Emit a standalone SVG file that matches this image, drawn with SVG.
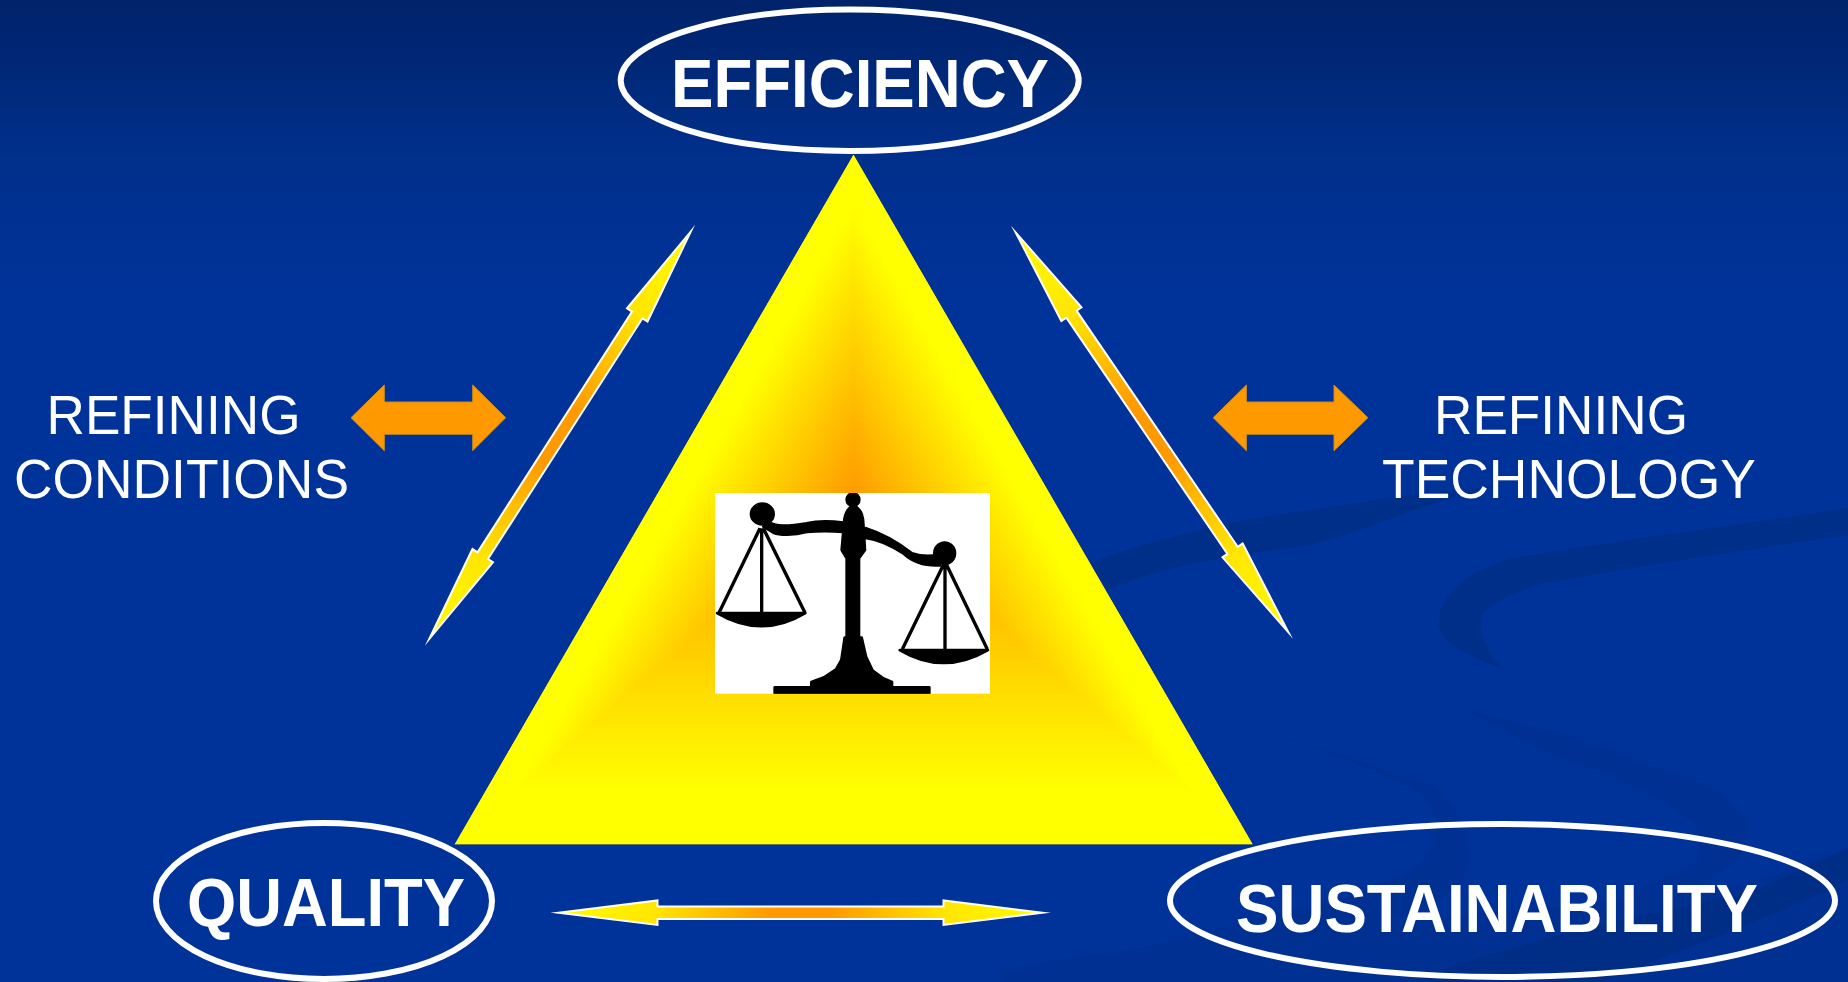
<svg xmlns="http://www.w3.org/2000/svg" width="1848" height="982" viewBox="0 0 1848 982">
<style>
.oval{fill:none;stroke:#fff;stroke-width:6}
.bold{font-family:"Liberation Sans",Arial,sans-serif;font-weight:700;fill:#fff;font-size:68px}
.reg{font-family:"Liberation Sans",Arial,sans-serif;fill:#fff;font-size:56px}
.thin{fill:#FF9900;stroke:#C98A20;stroke-width:1}
.dbl{fill:url(#arrowGrad);stroke:#fff;stroke-width:2;stroke-miterlimit:30}
.sw{fill:#003192}
.swd{fill:#002F8A}
.s{stroke:#000;stroke-width:10;fill:none}
.k{stroke:#000;stroke-width:8;stroke-linejoin:round}
</style>
<defs>
<linearGradient id="bg" x1="0" y1="0" x2="0" y2="1">
<stop offset="0" stop-color="#00226A"/><stop offset="0.1" stop-color="#002B7E"/><stop offset="0.16" stop-color="#002F8C"/><stop offset="0.3" stop-color="#003399"/><stop offset="1" stop-color="#003399"/>
</linearGradient>
<linearGradient id="arrowGrad" gradientUnits="userSpaceOnUse" x1="-251" y1="0" x2="251" y2="0">
<stop offset="0" stop-color="#FFFF00"/><stop offset="0.21" stop-color="#FFE600"/><stop offset="0.44" stop-color="#FF9900"/><stop offset="0.56" stop-color="#FF9900"/><stop offset="0.79" stop-color="#FFE600"/><stop offset="1" stop-color="#FFFF00"/>
</linearGradient>
<linearGradient id="triB" gradientUnits="userSpaceOnUse" x1="853.5" y1="497" x2="853.5" y2="844.3">
<stop offset="0" stop-color="#FF9900"/><stop offset="0.85" stop-color="#FFFF00"/>
</linearGradient>
<linearGradient id="triL" gradientUnits="userSpaceOnUse" x1="853.5" y1="497" x2="705.4" y2="411.4">
<stop offset="0" stop-color="#FF9900"/><stop offset="0.85" stop-color="#FFFF00"/>
</linearGradient>
<linearGradient id="triR" gradientUnits="userSpaceOnUse" x1="853.5" y1="497" x2="1001.6" y2="411.4">
<stop offset="0" stop-color="#FF9900"/><stop offset="0.85" stop-color="#FFFF00"/>
</linearGradient>
<clipPath id="triClip"><polygon points="853.5,154.7 1252.6,844.3 454.8,844.3"/></clipPath>
<clipPath id="photoClip"><rect x="105" y="69" width="825" height="602"/></clipPath>
<path id="dblArrow" class="dbl" d="M-242 0L-143 -12.2V-6.2H143V-12.2L242 0L143 12.2V6.2H-143V12.2Z"/>
</defs>
<rect id="background" width="1848" height="982" fill="url(#bg)"/>
<g id="swooshes">
<path class="swd" d="M1090 563C1150 540 1240 518 1310 510C1370 500 1430 492 1500 486C1430 500 1370 530 1310 545C1240 555 1160 565 1110 590Z"/>
<path class="swd" d="M1848 508C1740 525 1620 540 1514 558C1470 570 1440 590 1438 625C1440 645 1480 660 1503 669C1490 655 1478 635 1481 616C1495 600 1520 590 1541 584C1640 565 1750 550 1848 535Z"/>
<path class="sw" d="M1178 707C1250 725 1330 750 1433 786C1455 800 1468 835 1470 857C1468 880 1450 895 1430 905C1360 935 1200 965 1000 1000V969C1100 960 1200 935 1270 915C1320 905 1360 895 1379 884C1410 875 1430 860 1438 830C1435 810 1425 800 1422 795C1350 755 1260 730 1178 707Z"/>
<path class="sw" d="M1449 705C1520 725 1580 735 1622 754C1680 775 1730 790 1730 804C1745 815 1750 825 1746 835C1745 855 1735 865 1730 866C1710 880 1690 888 1676 893C1640 910 1600 925 1568 933L1500 935C1560 925 1610 905 1649 884C1680 870 1698 865 1698 857C1700 845 1700 835 1698 830C1685 815 1670 805 1649 795C1610 775 1580 765 1541 750C1510 735 1480 715 1449 705Z"/>
<path class="sw" d="M1000 982V970C1100 950 1180 945 1243 937C1400 915 1650 905 1757 880L1848 848V982Z"/>
<path fill="#002E86" d="M1848 848L1757 890L1600 925C1520 945 1460 962 1411 982H1600C1680 950 1780 915 1848 880Z"/>
</g>
<g id="triangle">
<polygon points="853.5,154.7 1252.6,844.3 454.8,844.3" fill="#FFE000"/>
<g clip-path="url(#triClip)">
<polygon points="853.5,497 1252.6,844.3 454.8,844.3" fill="url(#triB)" stroke="url(#triB)" stroke-width="0.6"/>
<polygon points="853.5,497 853.5,154.7 454.8,844.3" fill="url(#triL)" stroke="url(#triL)" stroke-width="0.6"/>
<polygon points="853.5,497 853.5,154.7 1252.6,844.3" fill="url(#triR)" stroke="url(#triR)" stroke-width="0.6"/>
</g>
</g>
<g id="scales" transform="translate(680 470) scale(0.33333)">
<rect x="105" y="69" width="825" height="602" fill="#fff"/>
<g clip-path="url(#photoClip)">
<circle class="k" cx="519" cy="89" r="19"/>
<path class="k" d="M519 105C503 115 493 130 492 160L485 240L500 265V503H494L484 570L468 598L432 622L394 636V652H284V671H748V652H636V636L610 625L578 602L558 560L545 503H537V265L555 240L550 160C549 130 537 112 519 105Z"/>
<ellipse class="k" cx="247" cy="132" rx="34" ry="31"/>
<path class="k" d="M262 155C290 170 320 170 380 160C420 150 450 152 490 158V186C450 182 420 182 380 186C340 196 300 196 280 188L250 170Z"/>
<ellipse class="k" cx="794" cy="250" rx="31" ry="32"/>
<path class="k" d="M556 174C600 188 648 212 696 250C726 260 750 260 775 254L780 286C740 288 702 280 672 252C632 226 592 208 556 204Z"/>
<path class="s" d="M240 175L117 428M245 175V428M250 175L375 428M790 285L667 538M795 285V538M800 285L922 538"/>
<path class="k" d="M111 429H376Q245 508 111 429Z"/>
<path class="k" d="M659 540H924Q790 618 659 540Z"/>
</g>
</g>
<g id="connectors">
<use id="arrow-quality-efficiency" href="#dblArrow" transform="translate(560 435.3) rotate(-57.3)"/>
<use id="arrow-efficiency-sustainability" href="#dblArrow" transform="translate(1152 432.3) rotate(55.7)"/>
<use id="arrow-quality-sustainability" href="#dblArrow" transform="translate(800.5 912.7)"/>
<polygon id="arrow-conditions" class="thin" points="351,417.7 384.3,385 384.3,402 472.7,402 472.7,385 505.7,417.7 472.7,450.7 472.7,434.3 384.3,434.3 384.3,450.7"/>
<polygon id="arrow-technology" class="thin" points="1213.2,417.7 1246.4,385 1246.4,402 1334,402 1334,385 1367.9,417.7 1334,450.7 1334,434.3 1246.4,434.3 1246.4,450.7"/>
</g>
<g id="node-efficiency">
<ellipse class="oval" cx="849.7" cy="80.3" rx="229" ry="70.7"/>
<text class="bold" x="671" y="106.7" textLength="378" lengthAdjust="spacingAndGlyphs">EFFICIENCY</text>
</g>
<g id="node-quality">
<ellipse class="oval" cx="324" cy="901" rx="168" ry="78"/>
<text class="bold" x="187" y="925.7" textLength="278" lengthAdjust="spacingAndGlyphs">QUALITY</text>
</g>
<g id="node-sustainability">
<ellipse class="oval" cx="1502.5" cy="900.5" rx="332.5" ry="76.5"/>
<text class="bold" x="1236" y="931.7" textLength="522" lengthAdjust="spacingAndGlyphs">SUSTAINABILITY</text>
</g>
<g id="node-refining-conditions">
<text class="reg" x="46.5" y="434" textLength="254" lengthAdjust="spacingAndGlyphs">REFINING</text>
<text class="reg" x="14" y="497.7" textLength="335" lengthAdjust="spacingAndGlyphs">CONDITIONS</text>
</g>
<g id="node-refining-technology">
<text class="reg" x="1434" y="434" textLength="254" lengthAdjust="spacingAndGlyphs">REFINING</text>
<text class="reg" x="1382" y="497.7" textLength="374" lengthAdjust="spacingAndGlyphs">TECHNOLOGY</text>
</g>
</svg>
